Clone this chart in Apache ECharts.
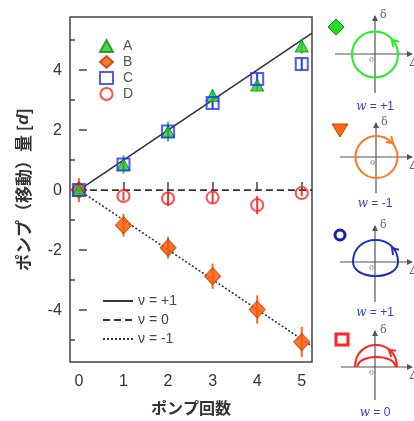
<!DOCTYPE html>
<html><head><meta charset="utf-8">
<script src="https://cdn.jsdelivr.net/npm/echarts@6/dist/echarts.min.js"></script>
<style>html,body{margin:0;padding:0;background:#fff}#c{width:414px;height:421px}</style>
</head><body><div id="c"></div>
<script>
const pumps = [0, 1, 2, 3, 4, 5];
const seriesA = [0, 0.85, 1.95, 3.15, 3.5, 4.8];
const errA = [0.2, 0.3, 0.33, 0.2, 0.2, 0.25];
const seriesB = [0, -1.17, -1.92, -2.87, -3.98, -5.06];
const errB = [0.4, 0.38, 0.36, 0.42, 0.47, 0.5];
const seriesC = [0, 0.85, 1.95, 2.9, 3.7, 4.2];
const errC = [0.15, 0.2, 0.2, 0.2, 0.2, 0.2];
const seriesD = [0, -0.2, -0.28, -0.25, -0.5, -0.1];
const errD = [0.15, 0.15, 0.25, 0.2, 0.3, 0.1];
const fitX = [0, 5.23];
const nuPlus = [0, 5.23];
const nuZero = [0, 0];
const nuMinus = [0, -5.2];
const xTicks = [0, 1, 2, 3, 4, 5];
const yMajor = [-4, -2, 0, 2, 4];
const yMinor = [-5, -3, -1, 1, 3, 5];

const FONT = 'Liberation Sans, Arial, sans-serif';
const JP = '"Noto Sans CJK JP", sans-serif';

function pts(ys){ return pumps.map((x,i)=>[x, ys[i]]); }
function errSeries(ys, errs, color){
  return {type:'custom', silent:true, z:2,
    data: pumps.map((x,i)=>[x, ys[i], errs[i]]),
    encode:{x:0,y:1},
    renderItem:(params, api)=>{
      const x=api.value(0), y=api.value(1), e=api.value(2);
      const p1=api.coord([x,y+e]), p2=api.coord([x,y-e]);
      return {type:'line', shape:{x1:p1[0],y1:p1[1],x2:p2[0],y2:p2[1]}, style:{stroke:color,lineWidth:2}};
    }};
}
function lineS(name, ys, type){
  return {type:'line', name, data: fitX.map((x,i)=>[x, ys[i]]), symbol:'none', z:1, silent:true,
    itemStyle:{color:'#333'},
    lineStyle:{color:'#333', width:1.6, type}};
}

// decorative inset helpers
const G = [];
function axesCross(cx, cy, x0, x1, y0, y1){
  G.push({type:'line', shape:{x1:x0,y1:cy,x2:x1-1,y2:cy}, style:{stroke:'#555',lineWidth:1.2}});
  G.push({type:'polygon', shape:{points:[[x1,cy],[x1-6,cy-3],[x1-6,cy+3]]}, style:{fill:'#555'}});
  G.push({type:'line', shape:{x1:cx,y1:y1,x2:cx,y2:y0+1}, style:{stroke:'#555',lineWidth:1.2}});
  G.push({type:'polygon', shape:{points:[[cx,y0],[cx-3,y0+6],[cx+3,y0+6]]}, style:{fill:'#555'}});
  G.push({type:'text', x:cx+5, y:y0-5, style:{text:'δ', fill:'#666', font:'11px "DejaVu Serif", serif'}});
  G.push({type:'text', x:x1-3, y:cy+3, style:{text:'Δ', fill:'#444', font:'italic 12px "DejaVu Serif", serif'}});
  G.push({type:'text', x:cx-6, y:cy+2, style:{text:'0', fill:'#777', font:'8px "DejaVu Serif", serif'}});
}
function arrowHead(x, y, dx, dy, color){
  const n=Math.hypot(dx,dy); dx/=n; dy/=n;
  const px=-dy, py=dx, a=6, w=4;
  G.push({type:'polyline', shape:{points:[[x-a*dx+w*px, y-a*dy+w*py],[x,y],[x-a*dx-w*px, y-a*dy-w*py]]}, style:{stroke:color,lineWidth:2,fill:null}});
}
function halfEll(cx, cy, rx, ry, color){
  const k=4/3;
  G.push({type:'bezierCurve', shape:{x1:cx-rx,y1:cy,x2:cx+rx,y2:cy,cpx1:cx-rx,cpy1:cy+ry*k,cpx2:cx+rx,cpy2:cy+ry*k}, style:{stroke:color,lineWidth:2,fill:null}});
}
function wLabel(cx, y, val){
  G.push({type:'text', x:cx, y:y, style:{
    text:'{i|w} = '+val, fill:'#3344bb', font:'12px '+FONT, align:'center', verticalAlign:'middle',
    rich:{i:{fontStyle:'italic', fontFamily:'"DejaVu Serif", serif', fontSize:12, fill:'#3344bb'}}}});
}
// panel 1
G.push({type:'polygon', shape:{points:[[336,19],[344,27],[336,35],[328,27]]}, style:{fill:'#22dd22', stroke:'#118811', lineWidth:1}});
axesCross(375, 54, 335, 413, 15, 93);
G.push({type:'circle', shape:{cx:375,cy:54.5,r:23}, style:{stroke:'#22ee22',lineWidth:2,fill:null}});
arrowHead(392, 40, -1, -1.1, '#22ee22');
wLabel(375, 107, '+1');
// panel 2
G.push({type:'polygon', shape:{points:[[332,124],[348,124],[340,137]]}, style:{fill:'#ff6611', stroke:'#cc4400', lineWidth:1}});
axesCross(376, 157, 340, 413, 122, 193);
G.push({type:'circle', shape:{cx:376.5,cy:157,r:21}, style:{stroke:'#ff7722',lineWidth:2,fill:null}});
arrowHead(393, 143, 1, 0.9, '#ff7722');
wLabel(375, 204, '-1');
// panel 3
G.push({type:'circle', shape:{cx:340,cy:235,r:5}, style:{stroke:'#1122aa',lineWidth:3,fill:null}});
axesCross(375, 262, 340, 413, 225, 302);
halfEll(375.5, 262, 22.5, -22, '#2233bb');
halfEll(375.5, 262, 22.5, 14, '#2233bb');
arrowHead(392, 248, -1, -1.1, '#2233bb');
wLabel(375, 313, '+1');
// panel 4
G.push({type:'rect', shape:{x:336,y:334,width:12,height:11}, style:{stroke:'#ff2222',lineWidth:3,fill:null}});
axesCross(375, 367, 341, 413, 330, 400);
halfEll(376, 367, 21, -22, '#ff2222');
halfEll(376.5, 367, 19, -10, '#ff2222');
arrowHead(389, 350, -1, -0.8, '#ff2222');
wLabel(375, 413, '0');

const chart = echarts.init(document.getElementById('c'));
chart.setOption({
  animation:false,
  backgroundColor:'#fff',
  grid:{left:70, right:102, top:17, bottom:59, show:true, borderColor:'#444', borderWidth:1.5, backgroundColor:'transparent'},
  xAxis:{type:'value', min:-0.2, max:5.23,
    name:'ポンプ回数', nameLocation:'middle', nameGap:38,
    nameTextStyle:{fontFamily:JP, fontSize:16, fontWeight:'bold', color:'#333'},
    axisLine:{show:false}, splitLine:{show:false},
    axisTick:{inside:true, length:8, customValues:xTicks, lineStyle:{color:'#444', width:1.5}},
    axisLabel:{customValues:xTicks, fontFamily:FONT, fontSize:16, color:'#333', margin:12}},
  yAxis:[
    {type:'value', min:-5.73, max:5.77,
     name:'ポンプ（移動）量 [{i|d}]', nameLocation:'middle', nameGap:38, nameRotate:90,
     nameTextStyle:{fontFamily:JP, fontSize:17, fontWeight:'bold', color:'#333',
       rich:{i:{fontFamily:FONT, fontStyle:'italic', fontWeight:'bold', fontSize:17, color:'#333'}}},
     axisLine:{show:false}, splitLine:{show:false},
     axisTick:{inside:true, length:8, customValues:yMajor, lineStyle:{color:'#444', width:1.5}},
     axisLabel:{customValues:yMajor, fontFamily:FONT, fontSize:16, color:'#333', margin:8}},
    {type:'value', min:-5.73, max:5.77, position:'left',
     axisLine:{show:false}, splitLine:{show:false}, axisLabel:{show:false},
     axisTick:{inside:true, length:5, customValues:yMinor, lineStyle:{color:'#444', width:1.5}}}
  ],
  legend:[
    {data:['A','B','C','D'], orient:'vertical', left:94, top:34, itemWidth:13, itemHeight:12, itemGap:2,
     textStyle:{fontFamily:FONT, fontSize:14, color:'#555', lineHeight:12, padding:[0,0,0,5]}, selectedMode:false},
    {data:['ν = +1','ν = 0','ν = -1'], orient:'vertical', left:97, top:289, itemWidth:30, itemHeight:12, itemGap:5,
     itemStyle:{opacity:0},
     textStyle:{fontFamily:FONT, fontSize:14, color:'#444', lineHeight:12}, selectedMode:false}
  ],
  graphic: G,
  series:[
    lineS('ν = +1', nuPlus, 'solid'),
    lineS('ν = 0', nuZero, [7,4]),
    lineS('ν = -1', nuMinus, [2,2]),
    errSeries(seriesD, errD, '#ff3333'),
    {type:'scatter', name:'D', data:pts(seriesD), symbol:'circle', symbolSize:12, z:3,
     itemStyle:{color:'rgba(255,255,255,0)', borderColor:'#ff2222', borderWidth:2}},
    errSeries(seriesB, errB, '#ff6a10'),
    {type:'scatter', name:'B', data:pts(seriesB), symbol:'diamond', symbolSize:[16,17], z:3,
     itemStyle:{color:'#ff5500', borderColor:'#b83a00', borderWidth:1}},
    errSeries(seriesA, errA, '#33cc33'),
    {type:'scatter', name:'A', data:pts(seriesA), symbol:'triangle', symbolSize:[13,12], z:3,
     itemStyle:{color:'#22cc22', borderColor:'#118811', borderWidth:1}},
    errSeries(seriesC, errC, '#2233ff'),
    {type:'scatter', name:'C', data:pts(seriesC), symbol:'rect', symbolSize:12, z:3,
     itemStyle:{color:'rgba(255,255,255,0)', borderColor:'#2233ff', borderWidth:2}}
  ]
});
</script></body></html>
